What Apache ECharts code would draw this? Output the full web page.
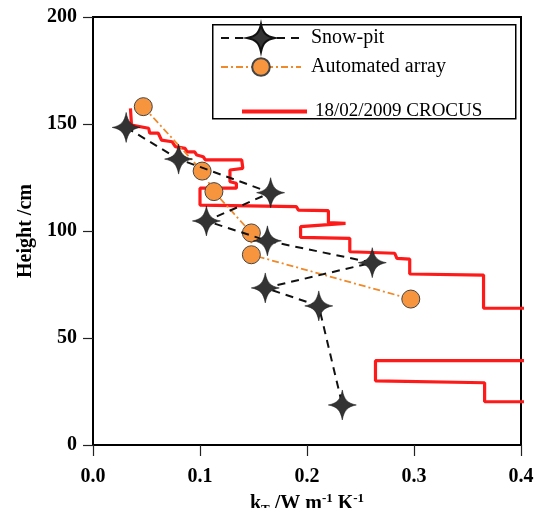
<!DOCTYPE html>
<html>
<head>
<meta charset="utf-8">
<script src="https://cdn.jsdelivr.net/npm/echarts@6/dist/echarts.min.js"></script>
<style>
html,body{margin:0;padding:0;background:#fff;}
#chart{width:540px;height:508px;}
</style>
</head>
<body>
<div id="chart"></div>
<script>
// ---- data ----
var xTicks = [0, 0.1, 0.2, 0.3, 0.4];
var yTicks = [0, 50, 100, 150, 200];

var snowK = [0.031, 0.080, 0.166, 0.106, 0.163, 0.261, 0.161, 0.211, 0.233];
var snowH = [148.4, 133.6, 117.9, 104.7, 95.4, 85.2, 73.4, 65.0, 18.7];

var autoK = [0.047, 0.102, 0.113, 0.148, 0.148, 0.297];
var autoH = [158.1, 128.0, 118.4, 99.1, 88.9, 68.2];

var crocusK = [0.035, 0.036, 0.052, 0.053, 0.061, 0.064, 0.074, 0.077, 0.086, 0.088, 0.095, 0.097, 0.103, 0.105,
  0.139, 0.140, 0.128, 0.128, 0.134, 0.134, 0.100, 0.100, 0.190, 0.192, 0.220, 0.220, 0.236, 0.236,
  0.194, 0.194, 0.240, 0.240, 0.282, 0.284, 0.296, 0.296, 0.365, 0.365, 0.45, 0.45,
  0.264, 0.264, 0.366, 0.366, 0.45, 0.45];
var crocusH = [157.3, 149.5, 148.0, 145.7, 145.7, 142.5, 141.7, 139.4, 138.6, 137.0, 137.0, 135.5, 134.7, 133.2,
  133.2, 129.3, 128.5, 123.0, 122.3, 120.0, 120.0, 112.1, 111.4, 109.8, 109.5, 103.9, 103.6, 102.8,
  102.0, 97.0, 96.6, 90.3, 89.6, 87.2, 86.9, 79.9, 79.4, 63.9, 63.9, 39.4,
  39.4, 30.0, 29.1, 20.2, 20.2, 0];

var names = ['Snow-pit', 'Automated array', '18/02/2009 CROCUS'];

function pairs(a, b) { return a.map(function (v, i) { return [v, b[i]]; }); }

var serif = 'Liberation Serif';
var starPath = 'path://M0,-15 C1.8,-5.5 5,-1.8 14,0 C5,1.8 1.8,5.5 0,15 C-1.8,5.5 -5,1.8 -14,0 C-5,-1.8 -1.8,-5.5 0,-15 Z';

var chart = echarts.init(document.getElementById('chart'), null, {renderer: 'canvas'});
var option = {
  backgroundColor: '#fff',
  animation: false,
  grid: {left: 93, right: 19, top: 17, bottom: 63, show: true, borderColor: '#000', borderWidth: 2,
    containLabel: false, outerBoundsMode: 'none'},
  xAxis: {
    type: 'value', min: xTicks[0], max: xTicks[xTicks.length - 1], interval: 0.1,
    axisLine: {show: true, lineStyle: {color: '#000', width: 2}},
    axisTick: {show: true, inside: false, length: 11, lineStyle: {color: '#222', width: 1.2}},
    splitLine: {show: false},
    axisLabel: {margin: 22, color: '#000', fontFamily: serif, fontWeight: 'bold', fontSize: 20,
      formatter: function (v) { return v.toFixed(1); }},
    name: '{b|k}{sub|T}{b| /W m}{sup|-1}{b| K}{sup|-1}',
    nameLocation: 'middle', nameGap: 43,
    nameTextStyle: {
      rich: {
        b: {fontFamily: serif, fontWeight: 'bold', fontSize: 20, color: '#000', lineHeight: 24},
        sub: {fontFamily: serif, fontWeight: 'bold', fontSize: 13, color: '#000', verticalAlign: 'bottom', lineHeight: 12},
        sup: {fontFamily: serif, fontWeight: 'bold', fontSize: 13, color: '#000', verticalAlign: 'top', lineHeight: 14}
      }
    }
  },
  yAxis: {
    type: 'value', min: yTicks[0], max: yTicks[yTicks.length - 1], interval: 50,
    axisLine: {show: true, lineStyle: {color: '#000', width: 2}},
    axisTick: {show: true, inside: false, length: 10, lineStyle: {color: '#222', width: 1.2}},
    splitLine: {show: false},
    axisLabel: {margin: 16, color: '#000', fontFamily: serif, fontWeight: 'bold', fontSize: 20},
    name: 'Height /cm', nameLocation: 'middle', nameGap: 57,
    nameTextStyle: {fontFamily: serif, fontWeight: 'bold', fontSize: 20, color: '#000'}
  },
  graphic: [{
    type: 'rect', left: 212, top: 24, shape: {width: 303, height: 94},
    style: {fill: '#fff', stroke: '#000', lineWidth: 1.5}, z: 50
  }],
  legend: [
    {data: [names[0]], left: 220, top: 23, padding: 0, itemWidth: 80, itemHeight: 35, z: 60,
      textStyle: {fontFamily: serif, fontSize: 20, color: '#000', padding: [0, 0, 0, 5]}},
    {data: [names[1]], left: 220, top: 57, padding: 0, itemWidth: 80, itemHeight: 22, z: 60,
      textStyle: {fontFamily: serif, fontSize: 20, color: '#000', padding: [0, 0, 0, 5]}},
    {data: [names[2]], left: 242, top: 102, padding: 0, itemWidth: 65, itemHeight: 4, icon: 'rect', z: 60,
      itemStyle: {color: '#ff1a1a'},
      textStyle: {fontFamily: serif, fontSize: 19, color: '#000', padding: [0, 0, 0, 3]}}
  ],
  series: [
    {
      name: names[2], type: 'line', data: pairs(crocusK, crocusH), symbol: 'none', z: 2,
      lineStyle: {color: '#ff1a1a', width: 3.2}, itemStyle: {color: '#ff1a1a'}, clip: true
    },
    {
      name: names[1], type: 'line', data: pairs(autoK, autoH), z: 3,
      symbol: 'circle', symbolSize: 18,
      lineStyle: {color: '#f0892a', width: 1.8, type: [7, 3, 2, 3]},
      itemStyle: {color: '#f7953f', borderColor: '#444', borderWidth: 1}
    },
    {
      name: names[0], type: 'line', data: pairs(snowK, snowH), z: 4,
      symbol: starPath, symbolSize: [28, 30], symbolKeepAspect: false,
      lineStyle: {color: '#111', width: 2, type: [8, 6]},
      itemStyle: {color: '#333', borderColor: '#111', borderWidth: 0.5}
    }
  ]
};
chart.setOption(option);
</script>
</body>
</html>
